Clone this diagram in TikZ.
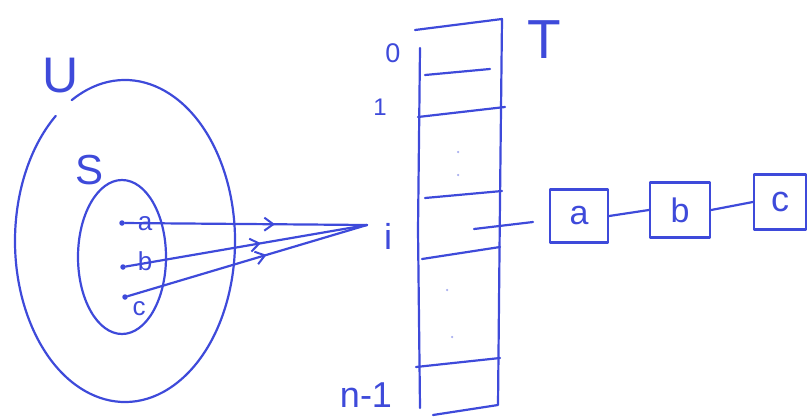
\documentclass[tikz,border=0pt]{standalone}
\usepackage{fontspec}
\setmainfont{Liberation Sans}
\usetikzlibrary{shapes.geometric,arrows.meta,decorations.markings}
\definecolor{pen}{RGB}{62,74,218}
\begin{document}
\begin{tikzpicture}[x=1pt,y=-1pt,
  ink/.style={draw=pen,line width=2.2pt,line cap=round,line join=round},
  lbl/.style={text=pen,inner sep=0pt},
  fs/.style={font=\fontsize{#1}{#1}\selectfont},
  dotpt/.style={circle,fill=pen,inner sep=0pt,minimum size=5.5pt},
  faint/.style={circle,fill=pen!45,inner sep=0pt,minimum size=2.5pt},
  listbox/.style={ink,rectangle,inner sep=0pt},
  arrowmid/.style={postaction={decorate},decoration={markings,
     mark=at position #1 with {\arrow{Straight Barb[length=9pt,width=13pt,line width=2pt]}}}}]
\useasboundingbox (0,0) rectangle (810,417);
% universe U
\node[lbl,fs=50] (Ulbl) at (61,76) {U};
\draw[ink] (125,241) ++(-119:110 and 161) arc[start angle=-119,end angle=231,x radius=110,y radius=161];
% set S
\node[lbl,fs=42] (Slbl) at (90,170) {S};
\node[ink,ellipse,minimum width=88pt,minimum height=154pt] (S) at (122,257) {};
% keys
\node[dotpt] (pa) at (122,223) {};
\node[dotpt] (pb) at (123,267) {};
\node[dotpt] (pc) at (125,297) {};
\node[lbl,fs=26] (la) at (145,224) {a};
\node[lbl,fs=26] (lb) at (145,261) {b};
\node[lbl,fs=26] (lc) at (139,309) {c};
% hash target
\coordinate (ti) at (367,225);
\draw[ink,arrowmid=0.62] (pa) -- (ti);
\draw[ink,arrowmid=0.56] (pb) -- (ti);
\draw[ink,arrowmid=0.58] (pc) -- (ti);
% table T
\draw[ink] (415,30) -- (502,19) -- (500,200) -- (498,405) -- (433,415);
\draw[ink] (420,48) -- (418,230) -- (420,408);
\draw[ink] (425,75) -- (490,69);
\draw[ink] (418,117) -- (505,107);
\draw[ink] (425,198) -- (502,191);
\draw[ink] (422,259) -- (500,247);
\draw[ink] (416,367) -- (500,358);
\node[faint] at (458,152) {};
\node[faint] at (458,175) {};
\node[faint] at (447,290) {};
\node[faint] at (452,337) {};
\node[lbl,fs=27] (l0) at (393,53) {0};
\node[lbl,fs=24] (l1) at (380,107) {1};
\node[lbl,fs=36] (li) at (388,236) {i};
\node[lbl,fs=36] (ln) at (366,395) {n-1};
\node[lbl,fs=55] (lT) at (544,40) {T};
% chain
\node[listbox,minimum width=58pt,minimum height=53pt] (A) at (579,216) {};
\node[listbox,minimum width=60pt,minimum height=55pt] (B) at (680,210) {};
\node[listbox,minimum width=52pt,minimum height=55pt] (C) at (780,202) {};
\node[lbl,fs=34] at (A) {a};
\node[lbl,fs=34] at (B) {b};
\node[lbl,fs=36] at (C) {c};
\coordinate (ptr) at (474,229);
\coordinate (ptrend) at (533,222);
\draw[ink] (ptr) -- (ptrend);
\draw[ink] (A.east) -- (B.west);
\draw[ink] (B.east) -- (C.west);
\end{tikzpicture}
\end{document}
